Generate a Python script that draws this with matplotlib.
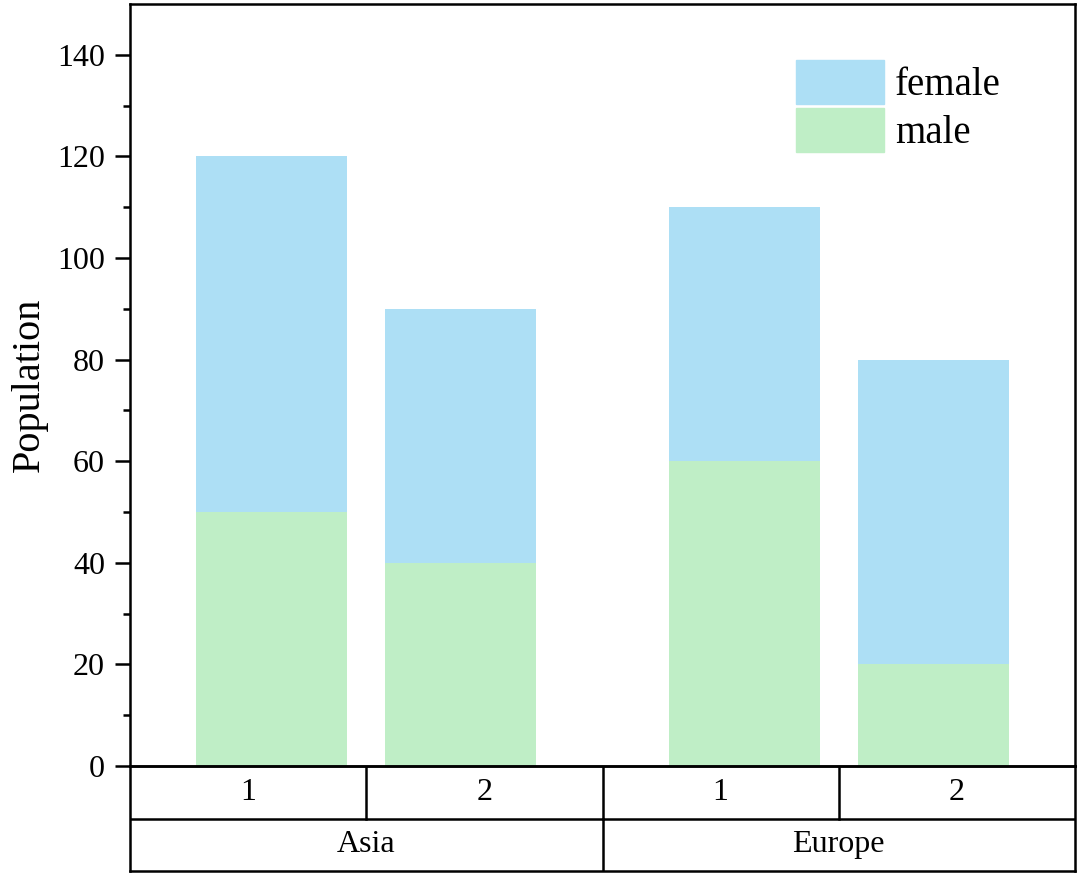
import numpy as np
import matplotlib.pyplot as plt
from matplotlib.patches import Patch

plt.rcParams["font.family"] = ["Liberation Serif", "DejaVu Serif"]

regions = ["Asia", "Europe"]
sub_labels = ["1", "2", "1", "2"]
male = [50, 40, 60, 20]
female = [70, 50, 50, 60]

x_pos = [1, 2, 3.5, 4.5]

blue = "#ADDFF5"
green = "#BFEEC6"

fig = plt.figure(figsize=(10.8, 8.75), dpi=100)

left = 130 / 1080
right = 1075 / 1080
bottom = (875 - 766) / 875
top = (875 - 4) / 875

ax = fig.add_axes([left, bottom, right - left, top - bottom])

ax.bar(x_pos, male, width=0.8, color=green, label="male")
ax.bar(x_pos, female, width=0.8, bottom=male, color=blue, label="female")

ax.set_xlim(0.25, 5.25)
ax.set_ylim(0, 150)
ax.set_yticks(np.arange(0, 141, 20))
ax.set_yticks(np.arange(0, 150, 10), minor=True)
ax.set_xticks([])

ax.tick_params(axis="y", which="major", direction="out", length=11, width=1.8,
               labelsize=23, pad=7)
ax.tick_params(axis="y", which="minor", direction="out", length=5, width=1.8)

for s in ax.spines.values():
    s.set_linewidth(1.8)

ax.set_ylabel("Population", fontsize=29, labelpad=7)

handles = [Patch(color=blue), Patch(color=green)]
fig.legend(
    handles,
    ["female", "male"],
    loc="upper left",
    bbox_to_anchor=(796 / 1080, 1 - 60 / 875),
    frameon=False,
    fontsize=28,
    borderpad=0,
    borderaxespad=0,
    handlelength=2.25,
    handleheight=1.37,
    labelspacing=0.1,
    handletextpad=0.3,
)

# table of category labels under the axis
tab_bottom = (875 - 871) / 875
tab = fig.add_axes([left, tab_bottom, right - left, bottom - tab_bottom])
tab.set_xlim(0, 4)
tab.set_ylim(0, 2)
tab.set_xticks([])
tab.set_yticks([])
tab.patch.set_alpha(0)
for s in tab.spines.values():
    s.set_linewidth(1.8)

tab.axhline(1, color="black", lw=1.8)
for xv in [1, 2, 3]:
    tab.plot([xv, xv], [1, 2], color="black", lw=1.8)
tab.plot([2, 2], [0, 1], color="black", lw=1.8)

for i, lab in enumerate(sub_labels):
    tab.text(i + 0.5, 1.5, lab, ha="center", va="center", fontsize=23)
for i, lab in enumerate(regions):
    tab.text(2 * i + 1, 0.5, lab, ha="center", va="center", fontsize=23)

fig.savefig("out.png", dpi=100)
